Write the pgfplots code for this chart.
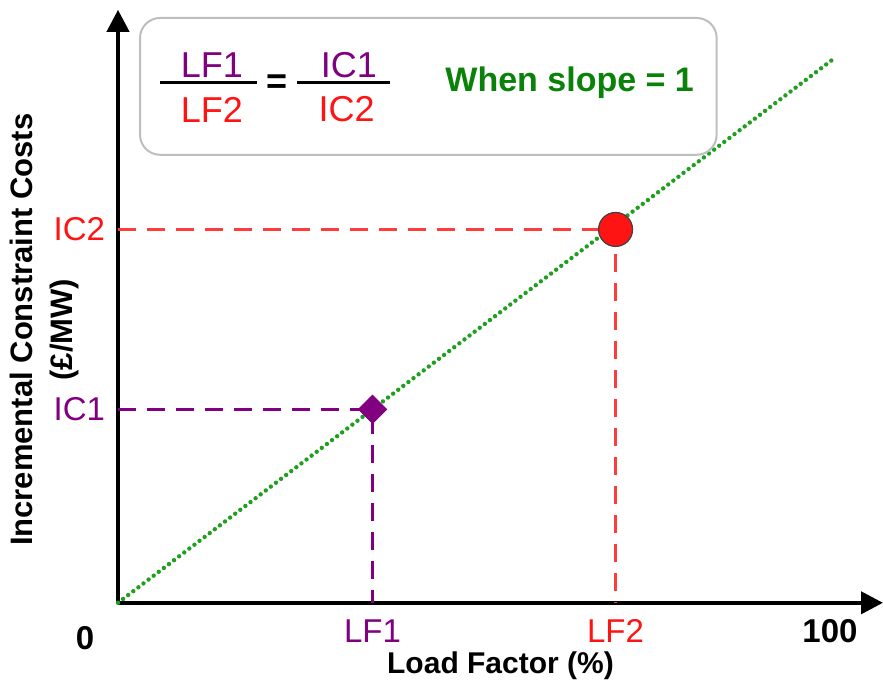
\documentclass[border=0pt]{standalone}
\usepackage{pgfplots}
\pgfplotsset{compat=1.18}
\usepackage{fontspec}
\setmainfont{Liberation Sans}
\usetikzlibrary{arrows.meta}
\definecolor{lfpurple}{RGB}{128,0,128}
\definecolor{lfred}{RGB}{255,20,20}
\definecolor{dashred}{RGB}{255,60,60}
\definecolor{dotgreen}{RGB}{30,160,30}
\definecolor{txtgreen}{RGB}{10,130,10}
\definecolor{boxgray}{RGB}{190,190,190}
\begin{document}
\begin{tikzpicture}
\begin{axis}[
    scale only axis,
    width=382.5pt, height=296.5pt,
    xmin=0, xmax=106.7, ymin=0, ymax=108.8,
    axis lines=left,
    axis line style={line width=2pt, -{Triangle[length=11pt,width=11pt]}},
    clip=false,
    major tick length=0pt,
    xtick={35.5,69.4,99.3},
    xticklabels={\textcolor{lfpurple}{LF1},\textcolor{lfred}{LF2},\textbf{100}},
    ytick={35.5,68.5},
    yticklabels={\textcolor{lfpurple}{IC1},\textcolor{lfred}{IC2}},
    ticklabel style={font=\fontsize{16.5}{19}\selectfont},
    xticklabel style={yshift=-5pt},
    yticklabel style={xshift=-3pt},
    xlabel={Load Factor (\%)},
    xlabel style={font=\fontsize{15}{18}\bfseries, yshift=2.5pt},
    ylabel={Incremental Constraint Costs\\[2pt](£/MW)},
    ylabel style={font=\fontsize{15.5}{18}\bfseries, align=center,
        at={(axis cs:-10.2,50.1)}, anchor=center},
]
% slope = 1 line
\addplot[dotgreen, line width=2.2pt, line cap=round,
    dash pattern=on 0pt off 3.2pt] coordinates {(0,0) (100,100)};
% dashed guides
\addplot[dashred, line width=1.6pt, dash pattern=on 9pt off 5.5pt]
    coordinates {(0,68.5) (69.4,68.5) (69.4,0)};
\addplot[lfpurple, line width=1.6pt, dash pattern=on 9pt off 5.5pt]
    coordinates {(0,35.5) (35.5,35.5) (35.5,0)};
% points
\addplot[only marks, mark=square*, mark size=5pt,
    mark options={rotate=45, fill=lfpurple, draw=lfpurple}]
    coordinates {(35.5,35.5)};
\addplot[only marks, mark=*, mark size=8.5pt,
    mark options={fill=lfred, draw=darkgray, line width=0.6pt}]
    coordinates {(69.4,68.5)};
% origin label
\node[font=\fontsize{16.5}{19}\bfseries] at (axis cs:-4.6,-6.4) {0};
% formula box
\draw[boxgray, line width=1pt, rounded corners=10pt, fill=white]
    (axis cs:3.07,82.2) rectangle (axis cs:83.5,107.3);
\draw[line width=1.5pt] (axis cs:5.9,95.4) -- (axis cs:19.4,95.4);
\draw[line width=1.5pt] (axis cs:25.0,95.4) -- (axis cs:37.9,95.4);
\node[lfpurple, font=\fontsize{18}{20}\selectfont] at (axis cs:13.1,98.6) {LF1};
\node[lfred, font=\fontsize{18}{20}\selectfont] at (axis cs:13.1,90.5) {LF2};
\node[font=\fontsize{18}{20}\bfseries] at (axis cs:22.2,95.2) {=};
\node[lfpurple, font=\fontsize{18}{20}\selectfont] at (axis cs:32.2,98.6) {IC1};
\node[lfred, font=\fontsize{18}{20}\selectfont] at (axis cs:31.9,90.5) {IC2};
\node[txtgreen, font=\fontsize{17}{20}\bfseries] at (axis cs:63.0,95.4) {When slope = 1};
\coordinate (BL) at (axis cs:-16.46,-14.13);
\coordinate (TR) at (axis cs:106.7,110.6);
\end{axis}
\pgfresetboundingbox
\path[use as bounding box] (BL) rectangle (TR);
\end{tikzpicture}
\end{document}
